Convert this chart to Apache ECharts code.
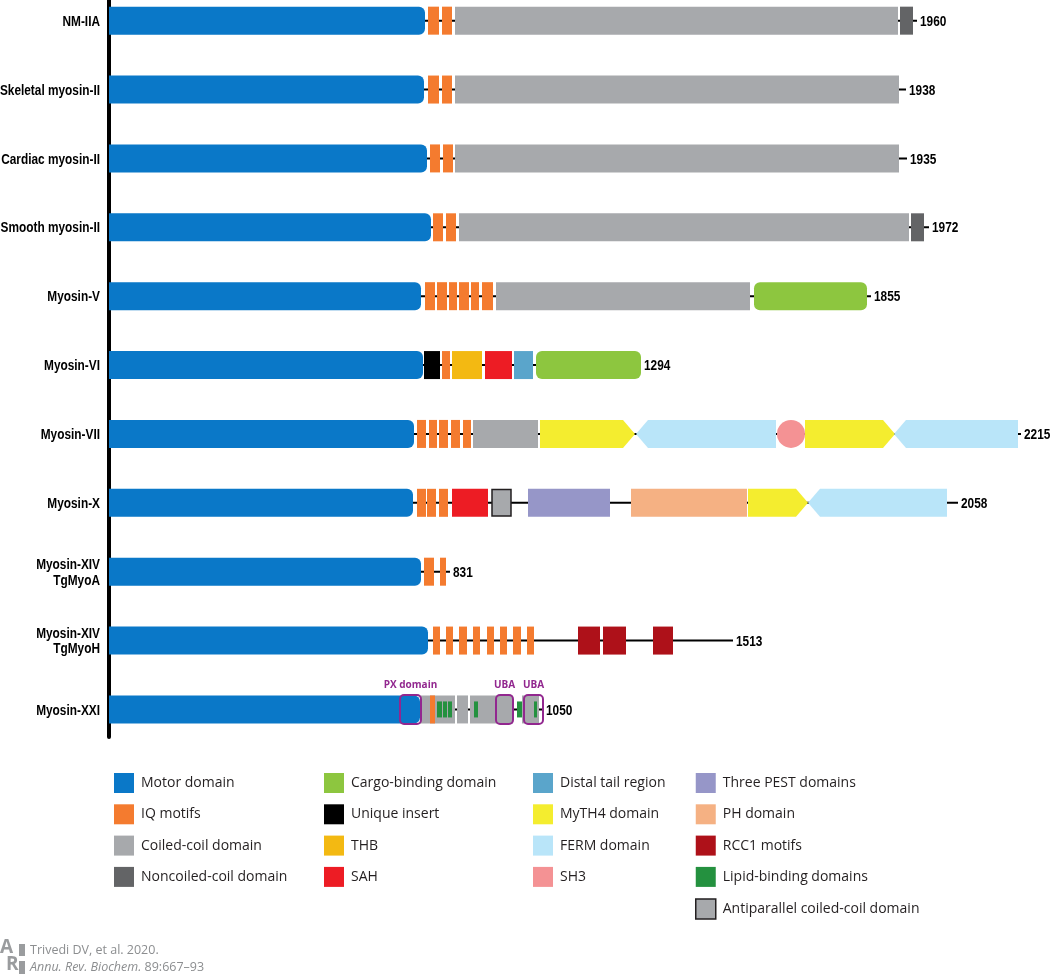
<!DOCTYPE html>
<html><head><meta charset="utf-8">
<script src="https://cdn.jsdelivr.net/npm/echarts@6/dist/echarts.min.js"></script>
<style>html,body{margin:0;padding:0;background:#fff}#c{width:1050px;height:977px}</style>
</head><body><div id="c"></div>
<script>
// ---- data (schematic diagram units along each protein; rows top to bottom) ----
const proteins = ['NM-IIA','Skeletal myosin-II','Cardiac myosin-II','Smooth myosin-II','Myosin-V','Myosin-VI','Myosin-VII','Myosin-X','Myosin-XIV\nTgMyoA','Myosin-XIV\nTgMyoH','Myosin-XXI'];
const lengthLabels = ['1960','1938','1935','1972','1855','1294','2215','2058','831','1513','1050'];
const backboneEnd = [808,797,798,820,762,532,912,849,341,624,434];

// each domain: [row, start, end]
const motorDomain = [[0,0,316],[1,0,315],[2,0,318],[3,0,322],[4,0,312],[5,0,314],[6,0,305],[7,0,304],[8,0,312],[9,0,319],[10,0,311]];
const iqMotifs = [[0,319,330],[0,333,343],[1,319,330],[1,333,343],[2,321,331],[2,334,344],[3,324,334],[3,337,347],
  [4,316,326],[4,328,338],[4,340,348],[4,350,360],[4,362,370],[4,373,384],[5,333,341],
  [6,308,317],[6,320,328],[6,330,339],[6,342,351],[6,354,362],[7,308,317],[7,318,327],[7,330,339],
  [8,315,325],[8,331,337],[9,324,331],[9,337,344],[9,350,358],[9,364,371],[9,378,385],[9,391,398],[9,404,412],[9,418,425],[10,321,326]];
const coiledCoil = [[0,346,789],[1,346,790],[2,346,790],[3,350,800],[4,387,641],[6,364,429],[10,311,346],[10,348,359],[10,361,404],[10,413,430]];
const noncoiledCoil = [[0,791,804],[3,802,815]];
const cargoBinding = [[4,645,758],[5,427,532]];
const uniqueInsert = [[5,315,331]];
const thb = [[5,343,373]];
const sah = [[5,376,403],[7,343,379]];
const distalTail = [[5,405,424]];
const myth4 = [[6,431,526],[6,696,786],[7,639,699]];
const ferm = [[6,527,667],[6,785,909],[7,699,838]];
const sh3 = [[6,668,696]];
const threePest = [[7,419,501]];
const phDomain = [[7,522,638]];
const rcc1 = [[9,469,491],[9,494,517],[9,544,564]];
const lipidBinding = [[10,328,333],[10,334,338],[10,339,343],[10,365,369],[10,408,413],[10,425,428]];
const antiparallelCC = [[7,383,402]];
const annotBoxes = [[10,291,312],[10,387,404],[10,415,434]];
const annotLabels = ['PX domain','UBA','UBA'];

// ---- styles ----
const BAR_H = 28;
const LABEL_FONT = 'bold 15px "Liberation Sans",Arial,sans-serif';
const NARROW_SCALE = 0.79;
const C = {
  motor:'#0a78c8', iq:'#f47b2f', coil:'#a7a9ac', noncoil:'#636466', cargo:'#8dc63f', unique:'#000000',
  thb:'#f3b912', sah:'#ed1c24', distal:'#5aa5cb', myth4:'#f4ed2f', ferm:'#b9e5f9', sh3:'#f49294',
  pest:'#9696c8', ph:'#f5b183', rcc1:'#ae1119', lipid:'#24913f', anti:'#a7a9ac', purple:'#92278f'
};

function geom(api){
  const p0 = api.coord([api.value(0), api.value(2)]);
  const p1 = api.coord([api.value(1), api.value(2)]);
  return {x0:p0[0], x1:p1[0], cy:p0[1]};
}
function draw(shape, color){
  return function(params, api){
    const g = geom(api); const h = BAR_H; const top = g.cy - h/2; const w = g.x1 - g.x0;
    const tip = 12;
    switch(shape){
      case 'motor': return {type:'rect', shape:{x:g.x0, y:top, width:w, height:h, r:[0,6,6,0]}, style:{fill:color}};
      case 'round': return {type:'rect', shape:{x:g.x0, y:top, width:w, height:h, r:6}, style:{fill:color}};
      case 'arrowR': return {type:'polygon', shape:{points:[[g.x0,top],[g.x1-tip,top],[g.x1,g.cy],[g.x1-tip,top+h],[g.x0,top+h]]}, style:{fill:color}};
      case 'arrowL': return {type:'polygon', shape:{points:[[g.x0+tip,top],[g.x1,top],[g.x1,top+h],[g.x0+tip,top+h],[g.x0,g.cy]]}, style:{fill:color}};
      case 'circle': return {type:'circle', shape:{cx:(g.x0+g.x1)/2, cy:g.cy, r:w/2}, style:{fill:color}};
      case 'short': return {type:'rect', shape:{x:g.x0, y:g.cy-8, width:w, height:16}, style:{fill:color}};
      case 'outlined': return {type:'rect', shape:{x:g.x0, y:top+0.75, width:w, height:h-1.5}, style:{fill:color, stroke:'#231f20', lineWidth:1.5}};
      default: return {type:'rect', shape:{x:g.x0, y:top, width:w, height:h}, style:{fill:color}};
    }
  };
}
function domainSeries(name, color, rows, shape, z){
  return {
    type:'custom', name, coordinateSystem:'cartesian2d', xAxisIndex:0, yAxisIndex:0,
    itemStyle:{color}, encode:{x:[0,1], y:2}, z: z||3, silent:true,
    data: rows.map(r => [r[1], r[2], r[0]]),
    renderItem: draw(shape, color)
  };
}

const backboneSeries = {
  type:'custom', name:'backbone', coordinateSystem:'cartesian2d', z:2, silent:true,
  encode:{x:[0,1], y:2},
  data: backboneEnd.map((e,i) => [0, e, i]),
  renderItem: function(params, api){
    const g = geom(api); const i = api.value(2);
    return {type:'group', children:[
      {type:'line', shape:{x1:g.x0, y1:g.cy, x2:g.x1, y2:g.cy}, style:{stroke:'#000', lineWidth:2}},
      {type:'text', x:g.x0 - 9, y:g.cy + 1, scaleX:NARROW_SCALE, style:{x:0, y:0, text:proteins[i], fill:'#000', align:'right', verticalAlign:'middle', lineHeight:15.5, font:LABEL_FONT}},
      {type:'text', x:g.x1 + 3, y:g.cy + 1, scaleX:NARROW_SCALE, style:{x:0, y:0, text:lengthLabels[i], fill:'#000', align:'left', verticalAlign:'middle', font:LABEL_FONT}}
    ]};
  }
};

const annotSeries = {
  type:'custom', name:'annotations', coordinateSystem:'cartesian2d', z:6, silent:true,
  encode:{x:[0,1], y:2},
  data: annotBoxes.map(r => [r[1], r[2], r[0]]),
  renderItem: function(params, api){
    const g = geom(api); const i = params.dataIndex;
    return {type:'group', children:[
      {type:'rect', shape:{x:g.x0, y:g.cy-14.5, width:g.x1-g.x0, height:29, r:4}, style:{fill:'none', stroke:C.purple, lineWidth:2}},
      {type:'text', x:(g.x0+g.x1)/2, y:g.cy-24, style:{text:annotLabels[i], fill:C.purple, align:'center', verticalAlign:'middle', font:'bold 10px "Open Sans",sans-serif'}}
    ]};
  }
};

const series = [
  backboneSeries,
  domainSeries('Motor domain', C.motor, motorDomain, 'motor'),
  domainSeries('IQ motifs', C.iq, iqMotifs, 'rect', 4),
  domainSeries('Coiled-coil domain', C.coil, coiledCoil, 'rect'),
  domainSeries('Noncoiled-coil domain', C.noncoil, noncoiledCoil, 'rect'),
  domainSeries('Cargo-binding domain', C.cargo, cargoBinding, 'round'),
  domainSeries('Unique insert', C.unique, uniqueInsert, 'rect'),
  domainSeries('THB', C.thb, thb, 'rect'),
  domainSeries('SAH', C.sah, sah, 'rect'),
  domainSeries('Distal tail region', C.distal, distalTail, 'rect'),
  domainSeries('MyTH4 domain', C.myth4, myth4, 'arrowR'),
  domainSeries('FERM domain', C.ferm, ferm, 'arrowL'),
  domainSeries('SH3', C.sh3, sh3, 'circle'),
  domainSeries('Three PEST domains', C.pest, threePest, 'rect'),
  domainSeries('PH domain', C.ph, phDomain, 'rect'),
  domainSeries('RCC1 motifs', C.rcc1, rcc1, 'rect'),
  domainSeries('Lipid-binding domains', C.lipid, lipidBinding, 'short', 5),
  domainSeries('Antiparallel coiled-coil domain', C.anti, antiparallelCC, 'outlined'),
  annotSeries
];

const legendText = {fontFamily:'"Open Sans",sans-serif', fontSize:14, color:'#231f20', padding:[0,0,0,2]};
function legendCol(left, names){
  return {left, top:773, orient:'vertical', itemWidth:20, itemHeight:20, itemGap:11.3, padding:0,
    icon:'rect', selectedMode:false, textStyle:legendText,
    data: names.map(n => n === 'Antiparallel coiled-coil domain'
      ? {name:n, itemStyle:{borderColor:'#231f20', borderWidth:1.5}} : {name:n})};
}

const option = {
  animation:false,
  backgroundColor:'#fff',
  grid:{left:109, top:0, width:940, height:737, containLabel:false},
  xAxis:{type:'value', min:0, max:940, show:false},
  yAxis:{type:'value', min:-0.3, max:10.4, inverse:true, position:'left',
    axisLine:{show:true, onZero:false, lineStyle:{color:'#000', width:4}},
    axisTick:{show:false}, axisLabel:{show:false}, splitLine:{show:false}},
  legend:[
    legendCol(114, ['Motor domain','IQ motifs','Coiled-coil domain','Noncoiled-coil domain']),
    legendCol(324, ['Cargo-binding domain','Unique insert','THB','SAH']),
    legendCol(533, ['Distal tail region','MyTH4 domain','FERM domain','SH3']),
    legendCol(695, ['Three PEST domains','PH domain','RCC1 motifs','Lipid-binding domains','Antiparallel coiled-coil domain'])
  ],
  graphic:[
    {type:'text', left:0, top:938, style:{text:'A', fill:'#9a9c9e', font:'bold 19px "Open Sans",sans-serif'}},
    {type:'text', left:6, top:955, style:{text:'R', fill:'#9a9c9e', font:'bold 19px "Open Sans",sans-serif'}},
    {type:'rect', left:19, top:944, shape:{width:6, height:12}, style:{fill:'#9a9c9e'}},
    {type:'rect', left:19, top:961, shape:{width:6, height:13}, style:{fill:'#9a9c9e'}},
    {type:'text', left:30, top:944, style:{text:'Trivedi DV, et al. 2020.', fill:'#8c8e90', font:'12.5px "Open Sans",sans-serif'}},
    {type:'text', left:30, top:961, style:{text:'{i|Annu. Rev. Biochem.} 89:667–93', fill:'#8c8e90', font:'12.5px "Open Sans",sans-serif',
      rich:{i:{fontStyle:'italic', fontSize:12.5, fontFamily:'"Open Sans",sans-serif', fill:'#8c8e90'}}}}
  ],
  series
};
const chart = echarts.init(document.getElementById('c'), null, {renderer:'canvas'});
chart.setOption(option);
</script></body></html>
